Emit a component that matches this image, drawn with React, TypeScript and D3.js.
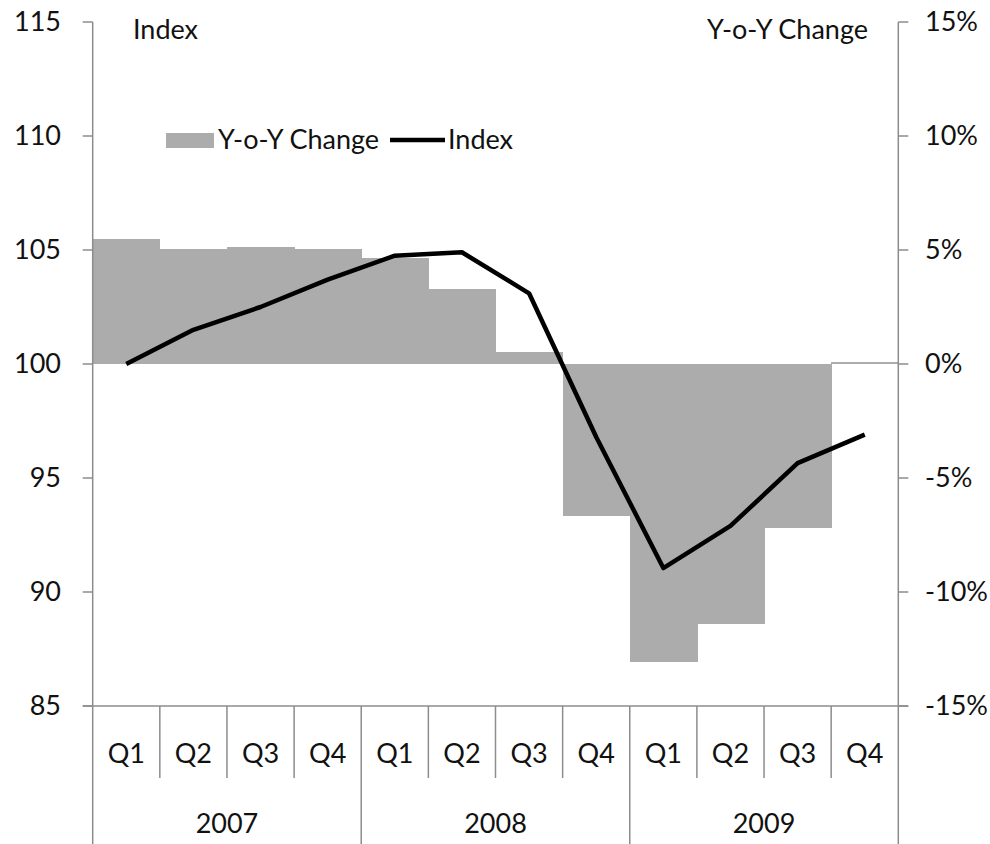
import React from 'react';
import * as d3 from 'd3';

// Quarterly index and its year-on-year change, 2007-2009
const years = ['2007', '2008', '2009'];
const quarters = ['Q1', 'Q2', 'Q3', 'Q4'];
const periods = years.flatMap(y => quarters.map(q => `${y} ${q}`));
const yoyChange = [5.47, 5.03, 5.12, 5.03, 4.66, 3.27, 0.54, -6.67, -13.08, -11.4, -7.18, 0.07];
const indexValues = [100, 101.5, 102.5, 103.7, 104.75, 104.9, 103.1, 96.8, 91.05, 92.9, 95.65, 96.9];
const leftTicks = [85, 90, 95, 100, 105, 110, 115];
const rightTicks = [-15, -10, -5, 0, 5, 10, 15];

const W = 990;
const H = 844;
const plot = { left: 92.7, right: 898.3, top: 22, bottom: 706 };
const font = 'Lato, "Open Sans", sans-serif';
const fontSize = 27;
const axisColor = '#8c8c8c';
const barColor = '#acacac';
const textColor = '#111';

export default function App() {
  const x = d3.scaleBand<string>().domain(periods).range([plot.left, plot.right]).padding(0);
  const yLeft = d3.scaleLinear().domain([85, 115]).range([plot.bottom, plot.top]);
  const yRight = d3.scaleLinear().domain([-15, 15]).range([plot.bottom, plot.top]);

  const line = d3.line<number>()
    .x((d, i) => (x(periods[i]) as number) + x.bandwidth() / 2)
    .y(d => yLeft(d));

  const yearStart = (i: number) => x(periods[i * 4]) as number;
  const yearEnd = (i: number) => (x(periods[i * 4 + 3]) as number) + x.bandwidth();

  return (
    <svg width={W} height={H} style={{ position: 'absolute', left: 0, top: 0, background: '#fff' }}
      fontFamily={font}>
      {/* bars, no gap between them */}
      {yoyChange.map((v, i) => (
        <rect key={i}
          x={x(periods[i])}
          width={x.bandwidth() + 0.6}
          y={yRight(Math.max(0, v))}
          height={Math.max(1, Math.abs(yRight(v) - yRight(0)))}
          fill={barColor}
          shapeRendering="crispEdges" />
      ))}

      {/* index line */}
      <path d={line(indexValues) || ''} fill="none" stroke="#000" strokeWidth={4.5} strokeLinejoin="round" />

      {/* left axis */}
      <line x1={plot.left} x2={plot.left} y1={plot.top} y2={H} stroke={axisColor} strokeWidth={1.5} />
      {leftTicks.map(t => (
        <g key={t}>
          <line x1={plot.left - 10} x2={plot.left} y1={yLeft(t)} y2={yLeft(t)} stroke={axisColor} strokeWidth={1.5} />
          <text x={61} y={yLeft(t)} dy="0.35em" textAnchor="end" fontSize={fontSize} fill={textColor}>{t}</text>
        </g>
      ))}

      {/* right axis */}
      <line x1={plot.right} x2={plot.right} y1={plot.top} y2={H} stroke={axisColor} strokeWidth={1.5} />
      {rightTicks.map(t => (
        <g key={t}>
          <line x1={plot.right} x2={plot.right + 10} y1={yRight(t)} y2={yRight(t)} stroke={axisColor} strokeWidth={1.5} />
          <text x={925} y={yRight(t)} dy="0.35em" textAnchor="start" fontSize={fontSize} fill={textColor}>{`${t}%`}</text>
        </g>
      ))}

      {/* category axis: quarters, then years */}
      <line x1={plot.left - 10} x2={plot.right + 10} y1={plot.bottom} y2={plot.bottom} stroke={axisColor} strokeWidth={1.5} />
      {periods.map((p, i) => {
        const x0 = x(p) as number;
        return (
          <g key={p}>
            {i % 4 !== 0 && (
              <line x1={x0} x2={x0} y1={plot.bottom} y2={778} stroke={axisColor} strokeWidth={1.5} />
            )}
            <text x={x0 + x.bandwidth() / 2} y={763} textAnchor="middle" fontSize={fontSize} fill={textColor}>
              {quarters[i % 4]}
            </text>
          </g>
        );
      })}
      {years.map((yr, i) => (
        <g key={yr}>
          {i > 0 && (
            <line x1={yearStart(i)} x2={yearStart(i)} y1={plot.bottom} y2={H} stroke={axisColor} strokeWidth={1.5} />
          )}
          <text x={(yearStart(i) + yearEnd(i)) / 2} y={833} textAnchor="middle" fontSize={fontSize} fill={textColor}>{yr}</text>
        </g>
      ))}

      {/* axis titles */}
      <text x={133} y={39} fontSize={fontSize} fill={textColor}>Index</text>
      <text x={868} y={39} textAnchor="end" fontSize={fontSize} fill={textColor}>Y-o-Y Change</text>

      {/* legend */}
      <rect x={166} y={133} width={48} height={15} fill={barColor} />
      <text x={218} y={149} fontSize={fontSize} fill={textColor}>Y-o-Y Change</text>
      <line x1={390} x2={445} y1={140} y2={140} stroke="#000" strokeWidth={4.5} />
      <text x={448} y={149} fontSize={fontSize} fill={textColor}>Index</text>
    </svg>
  );
}
